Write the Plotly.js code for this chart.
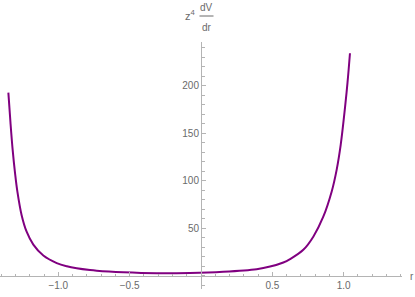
<!DOCTYPE html>
<html>
<head>
<meta charset="utf-8">
<script src="https://cdn.plot.ly/plotly-3.0.1.min.js"></script>
<style>html,body{margin:0;padding:0;background:#fff;}#plot{width:415px;height:297px;}</style>
</head>
<body>
<div id="plot"></div>
<script>
// values
var rValues = [-1.350, -1.335, -1.320, -1.303, -1.287, -1.257, -1.222, -1.175, -1.105, -1.011, -0.940, -0.871, -0.778, -0.731, -0.544, -0.310, -0.077, 0.156, 0.390, 0.484, 0.577, 0.624, 0.717, 0.787, 0.857, 0.916, 0.951, 0.979, 1.009, 1.027, 1.044];
var dVdrValues = [193, 161, 133, 108, 89, 64, 46.6, 33, 21.5, 13.6, 10.2, 8.1, 6.2, 5.5, 3.9, 2.9, 3.2, 4.5, 7.2, 9.9, 14.2, 17.8, 27.6, 41.4, 62.4, 89, 112, 138, 177, 204, 234.5];
var xTickVals = [-1.0, -0.5, 0.5, 1.0];
var xTickText = ['\u22121.0', '\u22120.5', '0.5', '1.0'];
var yTickVals = [50, 100, 150, 200];
var yTickText = ['50', '100', '150', '200'];

var W = 415, H = 297, mL = 0, mR = 13, mT = 42, mB = 8;
var pw = W - mL - mR, ph = H - mT - mB;
function px(x){ return (x - mL) / pw; }
function py(y){ return (H - mB - y) / ph; }

var axisColor = '#b4b4b4';
var textColor = '#6a6a6a';
var fontFam = 'Liberation Sans, Arial, sans-serif';

var trace = {
  x: rValues, y: dVdrValues, type: 'scatter', mode: 'lines',
  line: {color: '#800080', width: 2, shape: 'spline', smoothing: 1},
  hoverinfo: 'skip'
};

var layout = {
  width: W, height: H,
  margin: {l: mL, r: mR, t: mT, b: mB, pad: 0},
  paper_bgcolor: '#fff', plot_bgcolor: '#fff',
  showlegend: false,
  font: {family: fontFam, size: 10, color: textColor},
  xaxis: {
    range: [-1.4086, 1.4086], anchor: 'free', position: py(276),
    showgrid: false, zeroline: false, showline: true, linecolor: axisColor, linewidth: 1,
    tickmode: 'array', tickvals: xTickVals, ticktext: xTickText,
    ticks: 'inside', ticklen: 4, tickcolor: axisColor, tickwidth: 1,
    minor: {dtick: 0.1, tick0: 0, ticks: 'inside', ticklen: 2.5, tickcolor: axisColor, tickwidth: 1, showgrid: false},
    tickfont: {family: fontFam, size: 10, color: textColor}
  },
  yaxis: {
    range: [-13.7, 246.3], anchor: 'free', position: px(201),
    showgrid: false, zeroline: false, showline: true, linecolor: axisColor, linewidth: 1,
    tickmode: 'array', tickvals: yTickVals, ticktext: yTickText,
    ticks: 'inside', ticklen: 4, tickcolor: axisColor, tickwidth: 1,
    minor: {dtick: 10, tick0: 0, ticks: 'inside', ticklen: 2.5, tickcolor: axisColor, tickwidth: 1, showgrid: false},
    tickfont: {family: fontFam, size: 10, color: textColor}
  },
  annotations: [
    {xref: 'paper', yref: 'paper', x: px(411.5), y: py(276), text: 'r', showarrow: false,
     font: {family: fontFam, size: 10, color: textColor}, xanchor: 'center', yanchor: 'middle'},
    {xref: 'paper', yref: 'paper', x: px(190), y: py(15), text: 'z<sup>4</sup>', showarrow: false,
     font: {family: fontFam, size: 11, color: textColor}, xanchor: 'center', yanchor: 'middle'},
    {xref: 'paper', yref: 'paper', x: px(206.5), y: py(7), text: 'dV', showarrow: false,
     font: {family: fontFam, size: 10, color: textColor}, xanchor: 'center', yanchor: 'middle'},
    {xref: 'paper', yref: 'paper', x: px(206.5), y: py(28), text: 'dr', showarrow: false,
     font: {family: fontFam, size: 10, color: textColor}, xanchor: 'center', yanchor: 'middle'}
  ],
  shapes: [
    {type: 'line', xref: 'paper', yref: 'paper', x0: px(199.5), x1: px(213.5), y0: py(16), y1: py(16),
     line: {color: textColor, width: 1}}
  ]
};

Plotly.newPlot('plot', [trace], layout, {displayModeBar: false, staticPlot: true});
</script>
</body>
</html>
